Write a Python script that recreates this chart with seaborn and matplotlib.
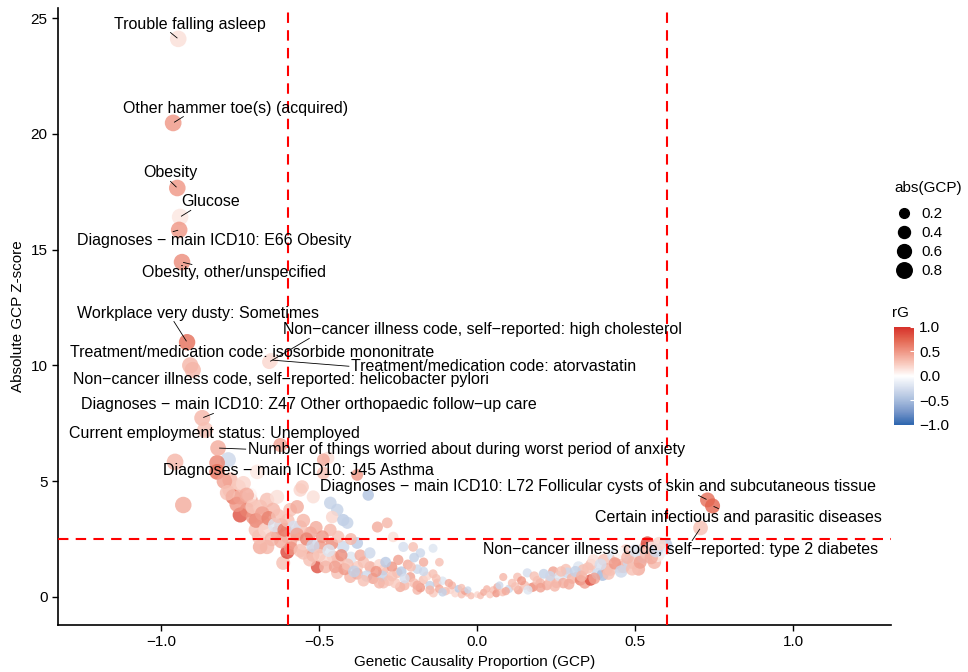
import numpy as np
import pandas as pd
import matplotlib
matplotlib.use("Agg")
import matplotlib.pyplot as plt
import seaborn as sns
from matplotlib.colors import LinearSegmentedColormap, Normalize
from matplotlib.cm import ScalarMappable
from matplotlib.lines import Line2D

# labelled traits
label_names = [
    "Trouble falling asleep",
    "Other hammer toe(s) (acquired)",
    "Obesity",
    "Glucose",
    "Diagnoses \u2212 main ICD10: E66 Obesity",
    "Obesity, other/unspecified",
    "Workplace very dusty: Sometimes",
    "Non\u2212cancer illness code, self\u2212reported: high cholesterol",
    "Treatment/medication code: isosorbide mononitrate",
    "Treatment/medication code: atorvastatin",
    "Non\u2212cancer illness code, self\u2212reported: helicobacter pylori",
    "Diagnoses \u2212 main ICD10: Z47 Other orthopaedic follow\u2212up care",
    "Current employment status: Unemployed",
    "Number of things worried about during worst period of anxiety",
    "Diagnoses \u2212 main ICD10: J45 Asthma",
    "Diagnoses \u2212 main ICD10: L72 Follicular cysts of skin and subcutaneous tissue",
    "Certain infectious and parasitic diseases",
    "Non\u2212cancer illness code, self\u2212reported: type 2 diabetes",
]
label_gcp = [-0.946, -0.962, -0.949, -0.940, -0.943, -0.934, -0.918, -0.658, -0.900,
             -0.652, -0.908, -0.870, -0.861, -0.820, -0.696, 0.728, 0.744, 0.706]
label_z = [24.10, 20.47, 17.66, 16.41, 15.85, 14.46, 11.00, 10.15, 9.80,
           10.23, 10.00, 7.73, 7.21, 6.43, 5.40, 4.19, 3.93, 2.98]
label_rg = [0.15, 0.50, 0.50, 0.12, 0.50, 0.55, 0.70, 0.20, 0.35,
            0.15, 0.35, 0.35, 0.30, 0.40, 0.12, 0.70, 0.75, 0.30]

# all other traits
gcp = [-0.623, -0.956, -0.788, -0.823, -0.823, -0.472, -0.380, -0.560, -0.345, -0.930,
       -0.782, -0.782, -0.756, -0.772, -0.750, -0.718, -0.750, -0.728, -0.709, -0.687,
       -0.677, -0.687, -0.665, -0.614, -0.601, -0.665, -0.633, -0.646, -0.592, -0.570,
       -0.554, -0.519, -0.487, -0.487, -0.465, -0.443, -0.459, -0.424, -0.411, -0.465,
       -0.528, -0.560, -0.592, -0.633, -0.582, -0.538, -0.497, -0.506, -0.456, -0.424,
       -0.380, -0.316, -0.285, -0.266, -0.234, -0.203, -0.180, -0.380, -0.339, -0.297,
       -0.253, -0.212, -0.171, -0.127, -0.085, -0.032, -0.443, -0.402, -0.297, -0.244,
       -0.190, -0.139, -0.700, -0.620, -0.600, -0.570, -0.550, -0.520, -0.480, -0.460,
       -0.440, -0.420, -0.400, -0.380, -0.360, -0.350, -0.330, -0.310, -0.300, -0.280,
       -0.270, -0.260, -0.240, -0.230, -0.220, -0.200, -0.190, -0.180, -0.160, -0.150,
       -0.140, -0.120, -0.110, -0.100, -0.080, -0.070, -0.060, -0.050, -0.040, -0.020,
       0.000, -0.720, -0.550, -0.200, -0.170,
       -0.800, -0.790, -0.760, -0.740, -0.730, -0.710, -0.700, -0.690, -0.680, -0.670,
       -0.660, -0.650, -0.640, -0.630, -0.620, -0.610, -0.600, -0.590, -0.580, -0.570,
       -0.560, -0.550, -0.540, -0.530, -0.520, -0.510, -0.500, -0.490, -0.480, -0.470,
       -0.450, -0.440, -0.430, -0.410, -0.400, -0.390, -0.370, -0.360, -0.340, -0.320,
       -0.310, -0.290, -0.270, -0.250, -0.230, -0.210, -0.190, -0.170, -0.150, -0.130,
       -0.110, -0.090, -0.050, -0.030, -0.140, -0.120,
       0.010, 0.020, 0.040, 0.050, 0.060, 0.063, 0.080, 0.082, 0.100, 0.110,
       0.127, 0.130, 0.150, 0.158, 0.170, 0.177, 0.190, 0.199, 0.210, 0.220,
       0.231, 0.240, 0.250, 0.260, 0.272, 0.280, 0.285, 0.300, 0.316, 0.320,
       0.326, 0.335, 0.340, 0.358, 0.360, 0.367, 0.380, 0.396, 0.400, 0.410,
       0.421, 0.430, 0.443, 0.450, 0.462, 0.470, 0.480, 0.494, 0.506, 0.510,
       0.525, 0.530, 0.538, 0.547, 0.560, 0.595, 0.570, 0.580, 0.550, 0.450,
       0.030, 0.070, 0.090, 0.120, 0.140, 0.160, 0.180, 0.200, 0.230, 0.245,
       0.265, 0.290, 0.310, 0.330, 0.350, 0.370, 0.390, 0.415, 0.435, 0.455,
       0.475, 0.490, 0.500, 0.515, 0.535, 0.550, 0.565, 0.575]
z_score = [6.56, 5.83, 5.92, 5.79, 5.40, 6.00, 5.27, 4.62, 4.40, 3.97,
           5.05, 4.62, 4.75, 4.32, 4.32, 4.19, 3.54, 3.76, 3.45, 3.89,
           3.20, 2.16, 2.16, 1.47, 1.94, 4.19, 4.32, 3.76, 3.76, 3.89,
           4.75, 4.32, 5.92, 5.35, 4.06, 3.76, 3.45, 3.32, 3.20, 2.89,
           2.76, 3.02, 2.76, 2.76, 2.33, 2.16, 2.16, 1.30, 1.73, 2.16,
           2.33, 3.02, 3.20, 2.59, 2.16, 2.16, 1.90, 1.30, 1.30, 1.17,
           1.04, 0.86, 0.73, 0.60, 0.30, 0.17, 1.04, 0.86, 0.60, 0.43,
           0.30, 0.17, 2.90, 3.10, 2.60, 2.50, 1.90, 1.80, 1.60, 2.30,
           1.50, 1.20, 1.70, 1.00, 1.50, 0.90, 0.80, 1.40, 0.90, 0.70,
           1.30, 0.60, 1.10, 0.50, 1.40, 0.60, 1.20, 0.40, 0.90, 0.50,
           1.00, 0.35, 0.70, 0.25, 0.50, 0.15, 0.35, 0.10, 0.25, 0.05,
           0.10, 4.40, 2.30, 1.70, 1.50,
           5.00, 4.50, 4.00, 4.90, 4.40, 3.90, 3.30, 2.60, 3.60, 2.90,
           3.40, 2.50, 3.10, 3.50, 2.40, 2.90, 3.30, 2.10, 3.00, 2.70,
           2.00, 3.30, 2.50, 1.60, 2.20, 3.00, 1.80, 2.60, 1.30, 2.00,
           1.30, 2.60, 1.80, 1.40, 2.50, 1.10, 1.80, 0.70, 1.90, 1.10,
           0.60, 1.50, 0.90, 1.60, 0.80, 1.30, 0.50, 1.10, 0.30, 0.80,
           0.20, 0.60, 0.40, 0.30, 2.10, 1.50,
           0.05, 0.20, 0.10, 0.30, 0.15, 0.43, 0.20, 0.86, 0.35, 0.60,
           0.86, 0.30, 0.50, 1.04, 0.40, 0.43, 0.70, 0.60, 1.00, 0.50,
           0.73, 1.10, 0.60, 0.90, 0.60, 1.20, 1.04, 0.80, 0.86, 1.30,
           0.73, 1.17, 0.60, 0.73, 1.40, 1.60, 1.00, 0.95, 1.60, 1.20,
           1.17, 1.80, 1.60, 1.30, 1.30, 2.00, 1.50, 1.47, 1.73, 1.20,
           1.73, 2.10, 2.33, 1.90, 1.50, 2.25, 1.80, 2.00, 2.10, 1.90,
           0.35, 0.50, 0.25, 0.45, 0.70, 0.30, 0.90, 0.40, 0.90, 0.45,
           1.10, 0.55, 1.10, 0.90, 1.25, 0.80, 1.40, 1.00, 1.45, 1.10,
           1.70, 1.20, 2.00, 1.50, 1.90, 1.70, 2.00, 2.30]
rg = [0.45, 0.35, -0.30, 0.60, 0.70, 0.15, 0.50, 0.20, -0.45, 0.40,
      0.35, 0.30, 0.25, 0.70, 0.35, 0.40, 0.85, 0.60, 0.50, 0.30,
      0.35, 0.40, 0.35, 0.30, 0.90, 0.30, 0.15, 0.35, 0.30, 0.40,
      0.25, 0.15, 0.40, 0.30, -0.35, -0.35, 0.20, -0.40, -0.35, 0.35,
      0.45, 0.30, 0.20, 0.55, 0.40, 0.25, 0.50, 0.85, 0.35, -0.30,
      -0.40, 0.40, 0.35, 0.15, -0.25, 0.30, -0.30, 0.25, 0.40, 0.35,
      0.30, 0.45, 0.30, 0.35, 0.20, 0.30, 0.30, 0.35, 0.30, 0.40,
      0.35, 0.25, 0.30, 0.50, 0.25, 0.35, 0.30, 0.45, 0.20, 0.55,
      0.30, 0.50, -0.20, 0.40, 0.30, -0.30, 0.45, 0.20, -0.35, 0.30,
      0.50, 0.25, -0.40, 0.35, 0.40, 0.30, -0.30, 0.50, 0.20, -0.35,
      0.30, 0.40, -0.20, 0.30, 0.35, 0.20, -0.40, 0.30, 0.45, 0.30,
      0.20, 0.05, 0.00, -0.35, 0.40,
      0.45, 0.30, 0.50, 0.20, 0.40, 0.25, 0.55, 0.30, 0.45, 0.20,
      0.60, 0.35, -0.20, 0.30, 0.40, 0.65, 0.30, 0.50, -0.25, 0.45,
      0.30, 0.35, 0.60, 0.30, -0.30, 0.40, 0.25, 0.50, 0.35, -0.20,
      0.45, 0.30, 0.55, 0.30, 0.35, -0.35, 0.40, 0.30, -0.30, 0.50,
      0.35, -0.40, 0.30, 0.45, -0.25, 0.30, 0.40, -0.30, 0.35, 0.30,
      -0.35, 0.40, 0.30, -0.30, -0.20, 0.30,
      0.30, 0.40, 0.25, 0.30, 0.50, 0.40, 0.30, 0.35, -0.30, 0.30,
      0.30, 0.45, 0.30, -0.25, 0.35, 0.50, 0.30, 0.35, -0.35, 0.40,
      0.30, 0.45, 0.35, -0.20, 0.40, 0.30, -0.30, 0.35, 0.30, -0.20,
      0.60, 0.30, 0.45, 0.85, 0.30, 0.15, -0.30, -0.50, 0.30, 0.40,
      0.30, -0.20, 0.30, 0.20, 0.35, 0.25, -0.30, 0.30, 0.20, 0.40,
      -0.20, 0.30, 0.90, -0.30, 0.35, -0.40, 0.10, -0.10, 0.05, 0.00,
      0.35, -0.30, 0.40, 0.30, 0.50, -0.20, 0.30, 0.45, -0.30, 0.35,
      0.30, 0.40, -0.35, 0.35, 0.30, 0.45, -0.25, 0.30, 0.50, -0.30,
      0.35, 0.30, -0.20, 0.45, 0.30, 0.40, -0.30, 0.20]

# text positions of the labels (ggrepel-like placement)
label_pos = [(-0.908, 24.74), (-0.766, 21.11), (-0.972, 18.31), (-0.845, 17.06),
             (-0.832, 15.41), (-0.769, 13.99), (-0.883, 12.26), (0.016, 11.53),
             (-0.712, 10.54), (0.051, 9.93), (-0.620, 9.37), (-0.532, 8.29),
             (-0.832, 7.04), (-0.035, 6.35), (-0.566, 5.48), (0.383, 4.75),
             (0.826, 3.45), (0.642, 2.07)]
# where the leader segment leaves the label box (fraction of box), None = no segment
label_anchor = [(0.37, 0), (0.27, 0), (0.51, 0), (0.17, 0), (0.35, 1), (0.27, 1),
                (0.40, 0), (0.066, 0), None, (0, 0.55), None, (0.29, 0),
                None, (0, 0.55), None, (0.68, 0), (0.43, 1), (0.53, 1)]

df = pd.DataFrame({
    "GCP": gcp + label_gcp,
    "Z": z_score + label_z,
    "rG": rg + label_rg,
})
df["absGCP"] = df["GCP"].abs()

plt.rcParams["font.family"] = ["Liberation Sans", "DejaVu Sans"]
# red-white-blue gradient, nodes spaced like a Lab interpolation
cmap = LinearSegmentedColormap.from_list(
    "rg", ["#2C65AE", "#7393C8", "#A8BDDD", "#D5DEEE", "#FFFFFF",
           "#F9CBBF", "#EF9685", "#E3644F", "#D7302A"])

fig = plt.figure(figsize=(9.68, 6.72), dpi=100)
ax = fig.add_axes([0.06, 0.07, 0.86, 0.918])

sns.scatterplot(data=df, x="GCP", y="Z", hue="rG", size="absGCP", palette=cmap,
                hue_norm=(-1, 1), sizes=(24, 150), size_norm=(0, 1), alpha=0.8,
                linewidth=0, legend=False, ax=ax, zorder=2)

for v in [-0.6, 0.6]:
    ax.axvline(v, color="#FF0000", lw=1.5, ls=(0, (5, 3.5)), zorder=3)
ax.axhline(2.5, color="#FF0000", lw=1.5, ls=(0, (5, 3.5)), zorder=3)

ax.set_xlim(-1.326, 1.307)
ax.set_ylim(-1.21, 25.43)
ax.set_xticks([-1.0, -0.5, 0.0, 0.5, 1.0])
ax.set_xticklabels(["\u22121.0", "\u22120.5", "0.0", "0.5", "1.0"])
ax.set_yticks([0, 5, 10, 15, 20, 25])
ax.set_xlabel("Genetic Causality Proportion (GCP)", fontsize=11)
ax.set_ylabel("Absolute GCP Z-score", fontsize=11)
ax.tick_params(labelsize=11, length=4, width=1, colors="black")
for s in ["top", "right"]:
    ax.spines[s].set_visible(False)
for s in ["left", "bottom"]:
    ax.spines[s].set_linewidth(1.2)

texts = []
for name, (tx, ty) in zip(label_names, label_pos):
    texts.append(ax.text(tx, ty, name, ha="center", va="center", fontsize=11.5, zorder=5))

# leader segments from the label box to the trait point
fig.canvas.draw()
renderer = fig.canvas.get_renderer()
inv = ax.transData.inverted()
for t, px, py, anc in zip(texts, label_gcp, label_z, label_anchor):
    if anc is None:
        continue
    bb = t.get_window_extent(renderer)
    sx = bb.x0 + anc[0] * bb.width - (2 if anc[0] == 0 else 0)
    sy = bb.y0 + anc[1] * bb.height
    if anc[1] == 0:
        sy -= 1
    elif anc[1] == 1:
        sy += 1
    dx, dy = ax.transData.transform((px, py))
    d = np.hypot(dx - sx, dy - sy)
    ex, ey = dx - (dx - sx) * 1.5 / d, dy - (dy - sy) * 1.5 / d
    (x0, y0), (x1, y1) = inv.transform([(sx, sy), (ex, ey)])
    ax.plot([x0, x1], [y0, y1], color="black", lw=0.6, zorder=4)

# size legend
size_vals = [0.2, 0.4, 0.6, 0.8]
handles = [Line2D([], [], ls="", marker="o", color="black",
                  markersize=np.sqrt(24 + 126 * v)) for v in size_vals]
ax.legend(handles, [f"{v:.1f}" for v in size_vals],
          loc="upper left", bbox_to_anchor=(0.918, 0.703),
          bbox_transform=fig.transFigure, frameon=False, fontsize=11,
          labelspacing=0.33, handlelength=1.0, handletextpad=0.65, borderpad=0)
fig.text(0.924, 0.720, "abs(GCP)", fontsize=11, ha="left", va="center")

# colour bar
cax = fig.add_axes([0.9236, 0.3676, 0.0207, 0.1458])
cb = fig.colorbar(ScalarMappable(norm=Normalize(-1, 1), cmap=cmap), cax=cax)
cb.outline.set_visible(False)
cb.set_ticks([-1.0, -0.5, 0.0, 0.5, 1.0])
cb.set_ticklabels(["\u22121.0", "\u22120.5", "0.0", "0.5", "1.0"])
cax.tick_params(labelsize=11, length=3, color="white", direction="in")
fig.text(0.922, 0.534, "rG", fontsize=11, ha="left", va="center")

fig.savefig("out.png", dpi=100)
